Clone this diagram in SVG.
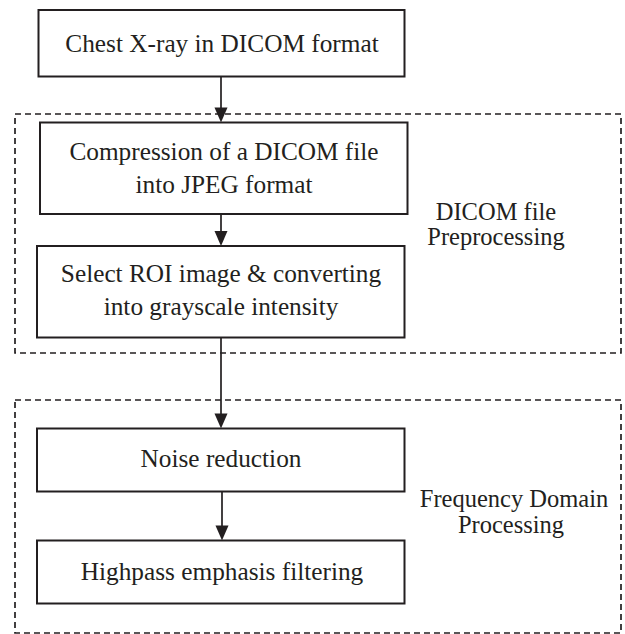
<svg xmlns="http://www.w3.org/2000/svg" width="625" height="634" viewBox="0 0 625 634">
<style>
.box{fill:#fff;stroke:#231f20;stroke-width:2}
.grp{fill:none;stroke:#231f20;stroke-width:1.7;stroke-dasharray:6,4}
.t{font-family:"Liberation Serif","Times New Roman",serif;font-size:25.3px;fill:#231f20;text-anchor:middle}
.lbl{font-family:"Liberation Serif","Times New Roman",serif;font-size:24.5px;fill:#231f20;text-anchor:middle}
.con{stroke:#231f20;stroke-width:1.7;fill:none}
.head{fill:#231f20}
</style>
<g id="groups">
<rect id="group-preprocessing" class="grp" x="15" y="114" width="606" height="239"/>
<rect id="group-frequency" class="grp" x="15" y="400" width="606" height="233"/>
</g>
<g id="connectors">
<path class="con" d="M221,76.5 V108"/>
<path class="head" d="M214.5,107.5 L227.5,107.5 L221,122.5 Z"/>
<path class="con" d="M221,214 V231"/>
<path class="head" d="M214.5,231 L227.5,231 L221,246 Z"/>
<path class="con" d="M221,337.5 V414"/>
<path class="head" d="M214.5,413.5 L227.5,413.5 L221,428.5 Z"/>
<path class="con" d="M222,491.5 V526"/>
<path class="head" d="M215.5,525.5 L228.5,525.5 L222,540.5 Z"/>
</g>
<g id="node-chest">
<rect class="box" x="38.5" y="10" width="366" height="66.5"/>
<text class="t" x="222" y="52">Chest X-ray in DICOM format</text>
</g>
<g id="node-compression">
<rect class="box" x="40" y="122.5" width="367.5" height="91.5"/>
<text class="t" x="224" y="160">Compression of a DICOM file</text>
<text class="t" x="224" y="193">into JPEG format</text>
</g>
<g id="node-roi">
<rect class="box" x="37" y="246" width="367.5" height="91.5"/>
<text class="t" x="221" y="282">Select ROI image &amp; converting</text>
<text class="t" x="221" y="315">into grayscale intensity</text>
</g>
<g id="node-noise">
<rect class="box" x="37" y="428.5" width="367.5" height="63"/>
<text class="t" x="221" y="467">Noise reduction</text>
</g>
<g id="node-highpass">
<rect class="box" x="37" y="540.5" width="367.5" height="63"/>
<text class="t" x="222" y="580">Highpass emphasis filtering</text>
</g>
<g id="labels">
<text class="lbl" x="496" y="220">DICOM file</text>
<text class="lbl" x="496" y="245">Preprocessing</text>
<text class="lbl" x="514" y="507">Frequency Domain</text>
<text class="lbl" x="511" y="533">Processing</text>
</g>
</svg>
